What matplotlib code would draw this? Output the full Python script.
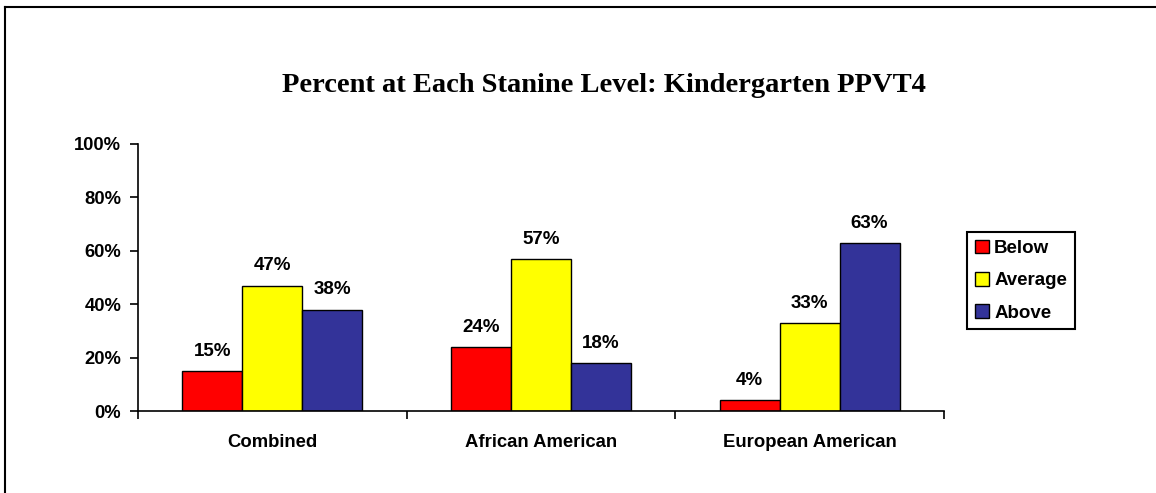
import matplotlib
matplotlib.use("Agg")
import matplotlib.pyplot as plt
from matplotlib.lines import Line2D
import numpy as np

categories = ["Combined", "African American", "European American"]
series_names = ["Below", "Average", "Above"]
below = [15, 24, 4]
average = [47, 57, 33]
above = [38, 18, 63]
yticks = [0, 20, 40, 60, 80, 100]
colors = ["#FF0000", "#FFFF00", "#333399"]

fig = plt.figure(figsize=(11.56, 4.93), dpi=100)
ax = fig.add_axes([138/1156, 1-411/493, (944-138)/1156, (411-144)/493])

x = np.arange(len(categories))
w = 0.223
sans = "Liberation Sans"
for i, (vals, name, c) in enumerate(zip([below, average, above], series_names, colors)):
    pos = x + (i - 1) * w
    ax.bar(pos, vals, width=w, color=c, edgecolor="black", linewidth=1.0, label=name, zorder=2)
    for p, v in zip(pos, vals):
        ax.annotate(f"{v}%", (p, v), xytext=(0, 8), textcoords="offset points",
                    ha="center", va="bottom", fontsize=13.5,
                    fontweight="bold", family=sans)

ax.set_xlim(-0.5, 2.5)
ax.set_ylim(0, 100)
ax.set_yticks(yticks)
ax.set_yticklabels([f"{t}%" for t in yticks], fontsize=13.2, fontweight="bold", family=sans)
ax.set_xticks(x)
ax.set_xticklabels(categories, fontsize=13.3, fontweight="bold", family=sans)
ax.set_xticks([-0.5, 0.5, 1.5, 2.5], minor=True)
ax.tick_params(axis="x", which="major", length=0, pad=16.5)
ax.tick_params(axis="x", which="minor", length=6, width=1.2, direction="out")
ax.tick_params(axis="y", length=6, width=1.2, direction="out", pad=6)
for s in ["top", "right"]:
    ax.spines[s].set_visible(False)
for s in ["left", "bottom"]:
    ax.spines[s].set_linewidth(1.2)

fig.text(604/1156, 1 - 86/493, "Percent at Each Stanine Level: Kindergarten PPVT4",
         ha="center", va="center", fontsize=20.5, fontweight="bold", family="Liberation Serif")

leg = fig.legend(loc="upper left", bbox_to_anchor=(967/1156, 1 - 232/493),
                 frameon=True, fancybox=False, edgecolor="black", framealpha=1,
                 prop={"family": sans, "weight": "bold", "size": 13.5},
                 handlelength=0.75, handleheight=0.75, handletextpad=0.3,
                 labelspacing=0.8, borderpad=0.4, borderaxespad=0)
leg.get_frame().set_linewidth(1.5)

fig.add_artist(Line2D([5/1156, 1], [1 - 7/493, 1 - 7/493], color="black", linewidth=1.5))
fig.add_artist(Line2D([5/1156, 5/1156], [0, 1 - 7/493], color="black", linewidth=1.5))

fig.savefig("out.png", dpi=100)
